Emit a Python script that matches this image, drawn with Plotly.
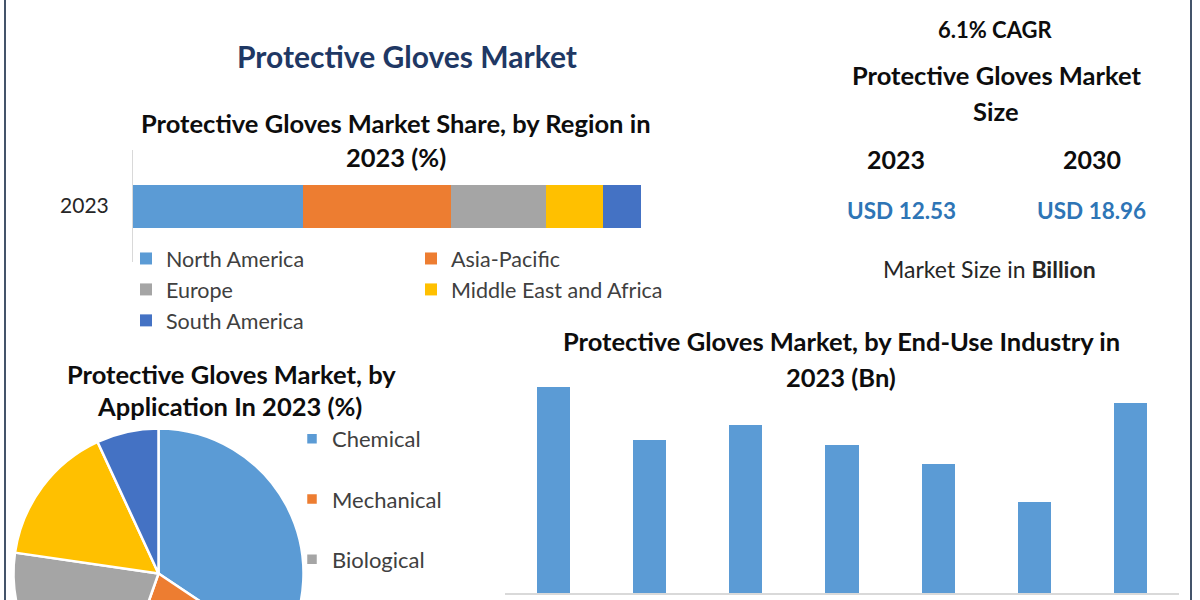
import plotly.graph_objects as go

# ---------------- data ----------------
region_year = ["2023"]
regions = ["North America", "Asia-Pacific", "Europe", "Middle East and Africa", "South America"]
region_share = [33.5, 29.1, 18.6, 11.4, 7.4]

applications = ["Chemical", "Mechanical", "Biological", "Thermal", "Others"]
application_share = [34.4, 21.0, 21.9, 15.8, 6.9]

end_use = ["Automotive", "Chemical", "Construction", "Food & Beverage", "Healthcare", "Oil & Gas", "Others"]
end_use_value = [2.38, 1.77, 1.94, 1.71, 1.49, 1.05, 2.20]

cagr_pct = 6.1
size_years = ["2023", "2030"]
size_values = [12.53, 18.96]

# ---------------- styling ----------------
W, H = 1200, 740
FONT = "Lato"
region_colors = ["#5b9bd5", "#ed7d31", "#a5a5a5", "#ffc000", "#4472c4"]
app_colors = ["#5b9bd5", "#ed7d31", "#a5a5a5", "#ffc000", "#4472c4"]
bar_color = "#5b9bd5"
TXT = "#0d0d0d"
LEG = "#404040"


def fx(x):
    return x / W


def fy(y):
    return 1 - y / H


fig = go.Figure()

# stacked region bar
legend_for = ["legend", "legend3", "legend", "legend3", "legend"]
for name, val, col, lg in zip(regions, region_share, region_colors, legend_for):
    fig.add_trace(go.Bar(
        y=region_year, x=[val], name=name, orientation="h",
        marker=dict(color=col, line=dict(width=0)), width=0.384,
        xaxis="x", yaxis="y", legend=lg, hoverinfo="name+x",
    ))

# end-use bar chart
fig.add_trace(go.Bar(
    x=end_use, y=end_use_value, marker=dict(color=bar_color, line=dict(width=0)),
    width=0.343, xaxis="x2", yaxis="y2", showlegend=False,
))

# application pie
r = 145
cx, cy = 158.5, 573.5
fig.add_trace(go.Pie(
    labels=[a + "<br> " for a in applications], values=application_share,
    sort=False, direction="clockwise", rotation=0,
    marker=dict(colors=app_colors, line=dict(color="white", width=2.5)),
    textinfo="none", legend="legend2",
    domain=dict(x=[fx(cx - r), fx(cx + r)], y=[fy(cy + r), fy(cy - r)]),
))

ann = []


def add_text(t, x, y, size, color=TXT, bold=True):
    ann.append(dict(
        text=("<b>%s</b>" % t) if bold else t, x=fx(x), y=fy(y), xref="paper", yref="paper",
        xanchor="center", yanchor="middle", showarrow=False,
        font=dict(family=FONT, size=size, color=color),
    ))


add_text("Protective Gloves Market", 407, 56, 30, "#1f3864")
add_text("Protective Gloves Market Share, by Region in", 396, 123, 25.5)
add_text("2023 (%)", 396, 157, 25.5)
add_text("%.1f%% CAGR" % cagr_pct, 995, 29, 22)
add_text("Protective Gloves Market", 996, 75, 25.5)
add_text("Size", 996, 111, 25.5)
add_text(size_years[0], 896, 159, 25)
add_text(size_years[1], 1092, 159, 25)
add_text("USD %.2f" % size_values[0], 901, 211, 22.5, "#2e75b6")
add_text("USD %.2f" % size_values[1], 1091, 211, 22.5, "#2e75b6")
add_text("Market Size in <b>Billion</b>", 989, 269, 23, "#262626", bold=False)
add_text("Protective Gloves Market, by End-Use Industry in", 841, 341, 25.5)
add_text("2023 (Bn)", 841, 377, 25.5)
add_text("Protective Gloves Market, by", 231, 374, 25.5)
add_text("Application In 2023 (%)", 229, 406, 25.5)

shapes = [
    dict(type="line", xref="paper", yref="paper", x0=fx(5), x1=fx(5), y0=0, y1=1,
         line=dict(color="#44546a", width=2)),
    dict(type="line", xref="paper", yref="paper", x0=fx(1191), x1=fx(1191), y0=0, y1=1,
         line=dict(color="#44546a", width=2)),
]

leg_common = dict(bgcolor="rgba(0,0,0,0)", borderwidth=0, orientation="v",
                  traceorder="normal", xanchor="left", yanchor="top", itemclick=False,
                  itemdoubleclick=False)

fig.update_layout(
    width=W, height=H,
    margin=dict(l=0, r=0, t=0, b=0),
    paper_bgcolor="white", plot_bgcolor="white",
    barmode="stack",
    font=dict(family=FONT, color=TXT),
    xaxis=dict(domain=[fx(133), fx(641)], range=[0, 100], visible=False, fixedrange=True),
    yaxis=dict(domain=[fy(262), fy(150)], range=[-0.5, 0.5], type="category",
               showline=True, linecolor="#d9d9d9", linewidth=1, ticks="",
               showgrid=False, zeroline=False, fixedrange=True,
               tickfont=dict(family=FONT, size=21, color="#262626"), ticklabelstandoff=19),
    xaxis2=dict(domain=[fx(505), fx(1179)], range=[-0.5, 6.5], anchor="y2",
                showline=True, linecolor="#d9d9d9", linewidth=1.5, ticks="",
                showticklabels=False, showgrid=False, zeroline=False, fixedrange=True),
    yaxis2=dict(domain=[fy(593), fy(380)], range=[0, 2.46], anchor="x2", visible=False,
                showgrid=False, zeroline=False, fixedrange=True),
    legend=dict(x=fx(126), y=fy(238), font=dict(family=FONT, size=21.5, color=LEG), **leg_common),
    legend3=dict(x=fx(411), y=fy(238), font=dict(family=FONT, size=21.5, color=LEG), **leg_common),
    legend2=dict(x=fx(292), y=fy(418), valign="top",
                 font=dict(family=FONT, size=22, color=LEG), **leg_common),
    annotations=ann,
    shapes=shapes,
)

fig.write_html(
    "out.html",
    config={"displayModeBar": False},
    post_script="document.body.style.margin='0';document.body.style.overflow='hidden';"
                "document.documentElement.style.overflow='hidden';",
)
